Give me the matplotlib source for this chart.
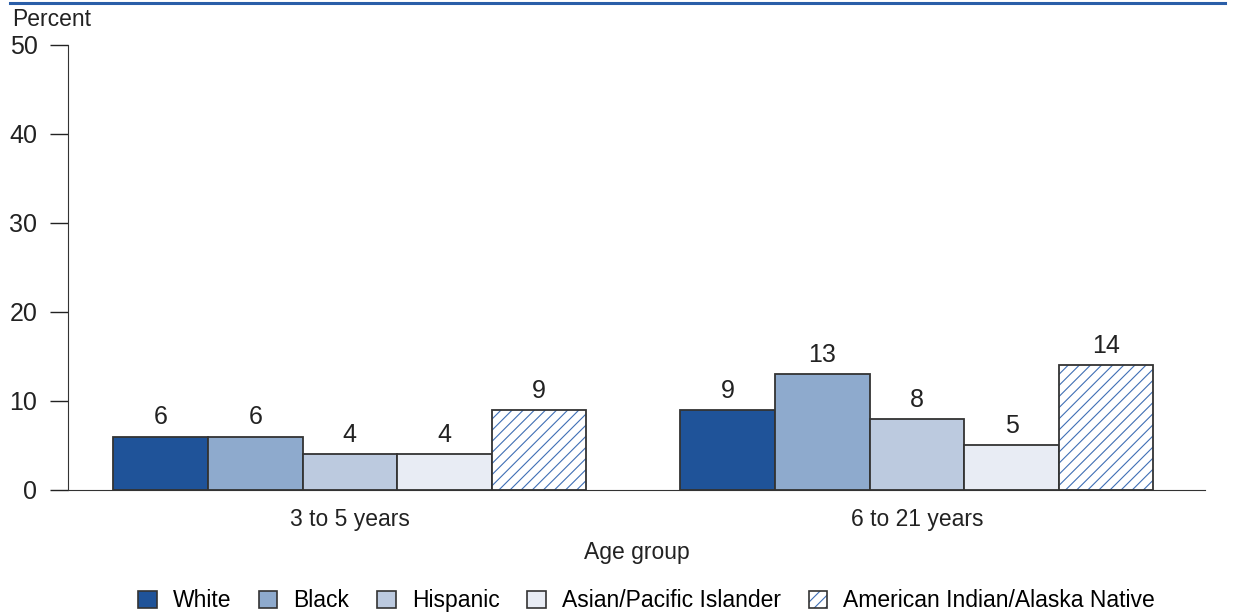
import numpy as np
import matplotlib
matplotlib.use('Agg')
import matplotlib.pyplot as plt
from matplotlib.patches import Patch
from matplotlib.legend_handler import HandlerTuple

plt.rcParams['font.family'] = ['Liberation Sans', 'DejaVu Sans']
plt.rcParams['hatch.linewidth'] = 0.8

groups = ['3 to 5 years', '6 to 21 years']
races = ['White', 'Black', 'Hispanic', 'Asian/Pacific Islander',
         'American Indian/Alaska Native']
values = {
    'White': [6, 9],
    'Black': [6, 13],
    'Hispanic': [4, 8],
    'Asian/Pacific Islander': [4, 5],
    'American Indian/Alaska Native': [9, 14],
}
colors = ['#1f5399', '#8eaacd', '#bccadf', '#e8ecf4', 'white']
hatch_col = '#3f6fb5'
edge = '#333333'
FS = 16.5
NUM = 18

fig = plt.figure(figsize=(12.34, 6.13), dpi=100)
ax = fig.add_axes([0.0551, 0.2007, 0.9214, 0.7259])

x = np.arange(len(groups))
w = 0.1668
for i, r in enumerate(races):
    xs = x + (i - 2) * w
    v = values[r]
    if i == 4:
        ax.bar(xs, v, w, color='white', edgecolor=hatch_col, hatch='///', linewidth=0)
        ax.bar(xs, v, w, fill=False, edgecolor=edge, linewidth=1.3)
    else:
        ax.bar(xs, v, w, color=colors[i], edgecolor=edge, linewidth=1.3)
    for xi, vi in zip(xs, v):
        ax.text(xi, vi + 0.8, str(vi), ha='center', va='bottom', fontsize=NUM, color='#222222')

ax.set_xlim(-0.497, 1.508)
ax.set_ylim(0, 50)
ax.set_yticks([0, 10, 20, 30, 40, 50])
ax.tick_params(axis='y', length=13, width=1, labelsize=NUM, colors='#222222', pad=9)
ax.set_xticks(x)
ax.set_xticklabels(groups)
ax.tick_params(axis='x', length=0, labelsize=FS, pad=13, colors='#222222')
for s in ['top', 'right']:
    ax.spines[s].set_visible(False)
ax.spines['left'].set_color(edge)
ax.spines['bottom'].set_color(edge)

ax.set_xlabel('Age group', fontsize=FS, labelpad=7, color='#222222')
fig.text(0.0097, 0.969, 'Percent', fontsize=FS, ha='left', va='center', color='#222222')

# top rule
fig.add_artist(plt.Line2D([0.008, 0.993], [0.995, 0.995], color='#2a5ea8', lw=2.2))

handles = []
for i, r in enumerate(races):
    if i == 4:
        handles.append((Patch(facecolor='white', edgecolor=hatch_col, hatch='///', linewidth=0),
                        Patch(fill=False, edgecolor=edge, linewidth=1.2)))
    else:
        handles.append(Patch(facecolor=colors[i], edgecolor=edge, linewidth=1.2))
fig.legend(handles, races, loc='center', bbox_to_anchor=(0.524, 0.02), ncol=5,
           frameon=False, fontsize=FS, handlelength=0.8, handleheight=0.8,
           handletextpad=0.7, columnspacing=1.22,
           handler_map={tuple: HandlerTuple(ndivide=1)})

fig.savefig('out.png', dpi=100)
